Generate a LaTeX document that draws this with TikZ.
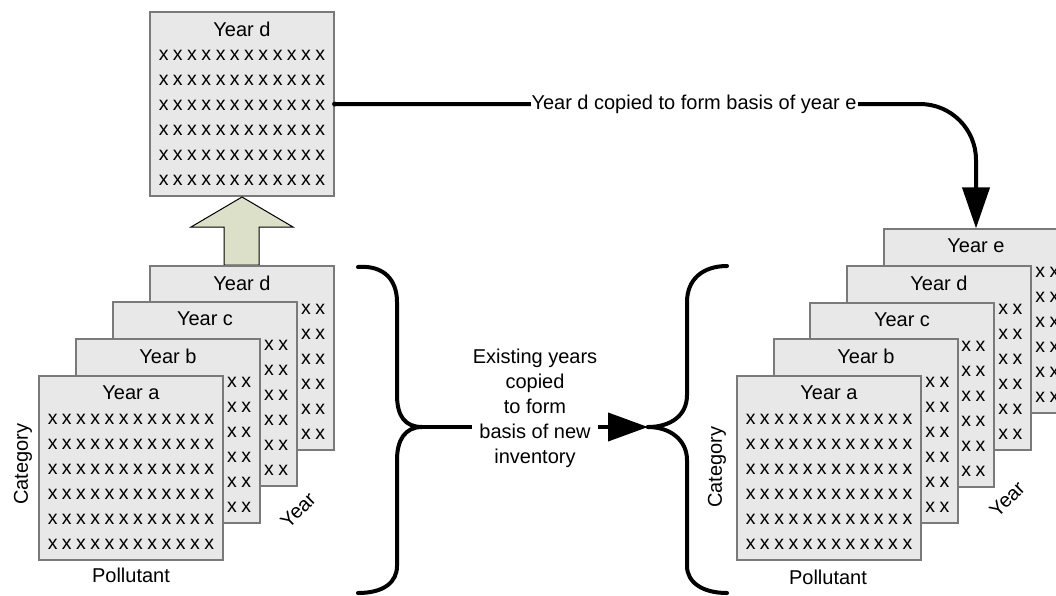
\documentclass[tikz,border=0pt]{standalone}
\usepackage{fontspec}
\setmainfont{Liberation Sans}
\usetikzlibrary{arrows.meta}
\definecolor{boxfill}{HTML}{E8E8E8}
\definecolor{boxline}{HTML}{7A7A7A}
\definecolor{arrowfill}{HTML}{DDE0C9}
\tikzset{
  yearbox/.style={rectangle, draw=boxline, fill=boxfill, line width=1.2pt, minimum width=184pt, minimum height=184pt, inner sep=0pt},
  titletxt/.style={inner sep=0pt, font=\fontsize{20pt}{24pt}\selectfont},
  rowtxt/.style={inner sep=0pt, font=\fontsize{19.5pt}{22pt}\selectfont},
  lbl/.style={inner sep=0pt, font=\fontsize{20pt}{24pt}\selectfont},
  conn/.style={line width=4pt, black},
  brace/.style={line width=4pt, black, line cap=round},
}
\newcommand{\xsp}{\hskip4.5pt}
\newcommand{\xrow}{x\xsp x\xsp x\xsp x\xsp x\xsp x\xsp x\xsp x\xsp x\xsp x\xsp x\xsp x}
\newcommand{\yrbox}[4]{%
  \node[yearbox] (#1) at (#2+92,#3+92) {};
  \node[titletxt] (#1t) at (#2+92,#3+17) {#4};
  \foreach \k in {0,...,5} {\node[rowtxt] (#1r\k) at (#2+92,#3+43+25*\k) {\xrow};}
}
\begin{document}
\begin{tikzpicture}[x=1pt,y=-1pt]
\useasboundingbox (0,0) rectangle (1056,595);
\clip (0,0) rectangle (1056,595);

% top copied year
\yrbox{topd}{150}{12}{Year d}

% up arrow
\filldraw[fill=arrowfill, draw=black, line width=1pt]
  (224,265) -- (224,227) -- (191,227) -- (242,197) -- (293,227) -- (259,227) -- (259,265) -- cycle;

% left stack
\yrbox{ld}{150}{266}{Year d}
\yrbox{lc}{113}{302}{Year c}
\yrbox{lb}{76}{339}{Year b}
\yrbox{la}{39}{376}{Year a}
\node[lbl, rotate=90] (lcat) at (23,464) {Category};
\node[lbl] (lpol) at (131,575) {Pollutant};
\node[lbl, rotate=45] (lyr) at (298,510) {Year};

% right stack
\yrbox{re}{884}{229}{Year e}
\yrbox{rd}{847}{266}{Year d}
\yrbox{rc}{810}{303}{Year c}
\yrbox{rb}{774}{339}{Year b}
\yrbox{ra}{737}{376}{Year a}
\node[lbl, rotate=90] (rcat) at (717,467) {Category};
\node[lbl] (rpol) at (828,577) {Pollutant};
\node[lbl, rotate=45] (ryr) at (1007,499) {Year};

% top connector
\draw[conn, rounded corners=56pt, -{Triangle[length=41pt,width=27pt]}] (topd.east) -| (re.north);
\fill (topd.east) circle (2.5pt);
\node[lbl, fill=white, inner xsep=1pt, inner ysep=3pt] (toplbl) at (694,104) {Year d copied to form basis of year e};

% braces
\coordinate (lbt) at (422,427);
\coordinate (rbt) at (648,427);
\draw[brace] (358,267) .. controls (384,265) and (397,280) .. (397,302) -- (397,395) .. controls (397,416) and (405,427) .. (lbt);
\draw[brace] (lbt) .. controls (405,427) and (397,440) .. (397,460) -- (397,566) .. controls (397,582) and (384,593) .. (358,593);
\draw[brace] (727,266) .. controls (702,266) and (687,280) .. (687,302) -- (687,395) .. controls (687,416) and (670,427) .. (rbt);
\draw[brace] (rbt) .. controls (670,427) and (687,440) .. (687,460) -- (687,566) .. controls (687,582) and (702,593) .. (727,593);

% bottom connector
\draw[conn, -{Triangle[length=40pt,width=28pt]}] (lbt) -- (rbt);
\node[lbl, fill=white, align=center, inner xsep=1pt, inner ysep=2pt, font=\fontsize{20pt}{25pt}\selectfont] (midlbl) at (535,408) {Existing years\\copied\\to form\\basis of new\\inventory};
\end{tikzpicture}
\end{document}
